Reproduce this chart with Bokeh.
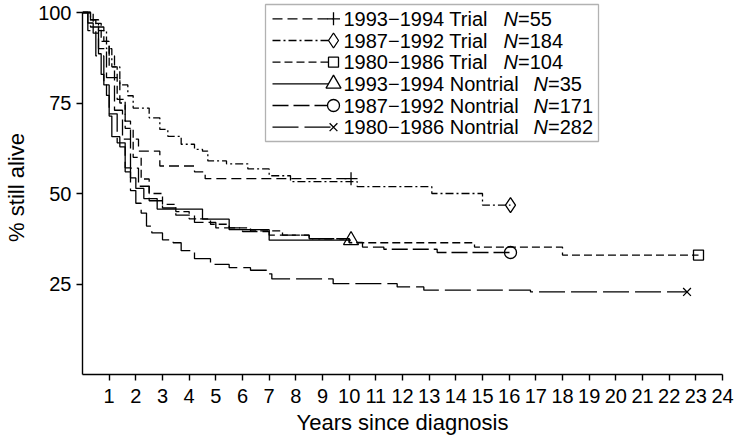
import numpy as np
from bokeh.plotting import figure
from bokeh.models import FixedTicker, Label, BoxAnnotation, Range1d
from bokeh.embed import file_html
from bokeh.resources import INLINE

# ---------------- data ----------------
labels = ["1993\u22121994 Trial", "1987\u22121992 Trial", "1980\u22121986 Trial",
          "1993\u22121994 Nontrial", "1987\u22121992 Nontrial", "1980\u22121986 Nontrial"]
ns = [55, 184, 104, 35, 171, 282]

# 1993-1994 Trial
t_a = [0, 0.3, 0.5, 0.8, 1.0, 1.2, 1.4, 1.6, 1.8, 2.1, 2.9, 4.2, 4.6, 10.07]
s_a = [100, 98, 96, 92, 88, 82, 75, 70, 65, 61.7, 57.6, 56.0, 54.1, 54.1]
# 1987-1992 Trial
t_b = [0, 0.3, 0.6, 0.9, 1.1, 1.4, 1.7, 1.9, 2.5, 2.9, 3.2, 3.7, 4.2, 4.5, 4.7,
       5.4, 6.2, 7.0, 7.8, 10.3, 13.1, 15.0, 16.05]
s_b = [100, 98, 95, 90, 85, 80, 77, 73.6, 70.9, 67.7, 65.8, 63.6, 62.2, 61.7, 59.0,
       58.2, 56.8, 54.9, 53.3, 51.9, 50.0, 46.8, 46.8]
# 1980-1986 Trial
t_c = [0, 0.4, 0.7, 1.0, 1.3, 1.6, 1.9, 2.2, 2.5, 3.0, 3.5, 4.0, 4.8, 5.5, 6.3,
       7.5, 8.5, 10.0, 14.7, 18.0, 23.1]
s_c = [100, 97, 92, 85, 76, 68, 60, 54, 50, 47, 45, 43, 41.5, 40.5, 39.7,
       38.5, 37.5, 36.4, 35.2, 33.0, 33.0]
# 1993-1994 Nontrial
t_d = [0, 0.2, 0.4, 0.6, 0.7, 0.8, 0.9, 1.0, 1.1, 1.4, 1.6, 1.8, 2.0, 2.3, 2.8, 4.5,
       5.5, 7.0, 10.07]
s_d = [100, 97.1, 94.3, 88.6, 82.9, 80.0, 77.1, 71.4, 65.7, 62.9, 57.1, 54.3, 51.4,
       48.6, 45.7, 42.9, 40.0, 37.1, 37.1]
# 1987-1992 Nontrial
t_e = [0, 0.3, 0.6, 0.9, 1.2, 1.5, 1.8, 2.1, 2.5, 3.0, 3.5, 4.2, 5.0, 6.0, 7.0,
       8.5, 10.0, 10.5, 11.3, 13.3, 16.05]
s_e = [100, 96, 90, 82, 73, 65, 57, 52, 48, 46, 44, 42, 40.5, 39.5, 38.5,
       37.5, 36.5, 35.2, 34.6, 33.7, 33.7]
# 1980-1986 Nontrial
t_f = [0, 0.2, 0.5, 0.8, 1.0, 1.3, 1.6, 1.8, 2.0, 2.2, 2.4, 2.6, 3.0, 3.4, 3.7,
       4.2, 4.8, 5.5, 6.3, 6.9, 7.1, 9.4, 11.8, 12.8, 16.8, 22.67]
s_f = [100, 95, 88, 80, 72, 64, 56, 50.8, 47.3, 44.6, 41.0, 39.1, 37.2, 36.4, 34.2,
       32.0, 30.4, 29.5, 28.8, 27.8, 26.4, 25.1, 24.2, 23.3, 22.8, 22.8]

x_ticks = list(range(1, 25))
y_ticks = [25, 50, 75, 100]
x_title = "Years since diagnosis"
y_title = "% still alive"

# ---------------- styling ----------------
FONT = "Liberation Sans"
TICK_FS = "20px"
TITLE_FS = "22px"
LEG_FS = "20px"
dashes = ["10 5", "8 3 2 3", "8 4", "solid", "16 5", "26 6"]
markers = ["cross", "diamond", "square", "triangle", "circle", "x"]
msizes = [13, 15, 10, 15, 12, 11]

series = [(t_a, s_a), (t_b, s_b), (t_c, s_c), (t_d, s_d), (t_e, s_e), (t_f, s_f)]

# canvas-pixel layout of the frame
W, H = 734, 439
F_LEFT, F_RIGHT, F_BOTTOM = 82, 722, 374
Y100 = 12                      # pixel row of the 100 % tick
PX_PER_PCT = (F_BOTTOM - Y100) / 100.0
Y_TOP = F_BOTTOM / PX_PER_PCT  # data value at the top edge of the canvas

p = figure(width=W, height=H, output_backend="svg", toolbar_location=None,
           x_range=Range1d(0, 24), y_range=Range1d(0, Y_TOP),
           min_border_left=F_LEFT, min_border_right=W - F_RIGHT,
           min_border_top=0, min_border_bottom=H - F_BOTTOM)
p.grid.visible = False
p.outline_line_color = None
p.background_fill_color = "white"
p.border_fill_color = "white"

for ax in (p.xaxis[0], p.yaxis[0]):
    ax.axis_line_width = 1.4
    ax.major_tick_line_width = 1.4
    ax.major_tick_out = 6
    ax.major_tick_in = 0
    ax.minor_tick_line_color = None
    ax.major_label_text_font = FONT
    ax.major_label_text_font_size = TICK_FS
    ax.major_label_text_color = "black"
    ax.axis_label_text_font = FONT
    ax.axis_label_text_font_size = TITLE_FS
    ax.axis_label_text_font_style = "normal"
    ax.axis_label_text_color = "black"

p.xaxis.ticker = FixedTicker(ticks=x_ticks)
p.yaxis.ticker = FixedTicker(ticks=y_ticks)
p.yaxis.bounds = (0, 100)
p.xaxis.bounds = (0, 24)
p.xaxis.axis_label = x_title
p.yaxis.axis_label = y_title
p.xaxis.major_label_standoff = 8
p.xaxis.axis_label_standoff = 4
p.yaxis.major_label_standoff = 5
p.yaxis.axis_label_standoff = 6

for (t, s), dash, mk, ms in zip(series, dashes, markers, msizes):
    p.step(t, s, mode="after", line_color="black", line_width=1.3, line_dash=dash)
    p.scatter([t[-1]], [s[-1]], marker=mk, size=ms, line_color="black",
              fill_color=None, line_width=1.3)


# ---------------- legend (built by hand) ----------------
def tx(px):
    return (px - F_LEFT) / (F_RIGHT - F_LEFT) * 24


def sy(py):
    return (F_BOTTOM - py) / PX_PER_PCT


p.add_layout(BoxAnnotation(left=tx(265), right=tx(598), top=sy(4), bottom=sy(141),
                           fill_color=None, line_color="black", line_width=1.3,
                           level="overlay"))
row_y = [18.3, 40, 61.7, 83.3, 105, 126.7]
n_x = [503, 503, 503, 533, 533, 533]
for i in range(6):
    yy = sy(row_y[i])
    p.line([tx(272), tx(333)], [yy, yy], line_color="black", line_width=1.3,
           line_dash=dashes[i])
    p.scatter([tx(333)], [yy], marker=markers[i], size=msizes[i], line_color="black",
              fill_color="white", line_width=1.3)
    p.add_layout(Label(x=tx(343), y=yy, text=labels[i], text_baseline="middle",
                       text_font=FONT, text_font_size=LEG_FS, text_color="black"))
    p.add_layout(Label(x=tx(n_x[i]), y=yy, text="N", text_baseline="middle",
                       text_font=FONT, text_font_size=LEG_FS, text_font_style="italic",
                       text_color="black"))
    p.add_layout(Label(x=tx(n_x[i] + 14.5), y=yy, text="=" + str(ns[i]),
                       text_baseline="middle", text_font=FONT, text_font_size=LEG_FS,
                       text_color="black"))

open("out.html", "w").write(file_html(p, INLINE))
